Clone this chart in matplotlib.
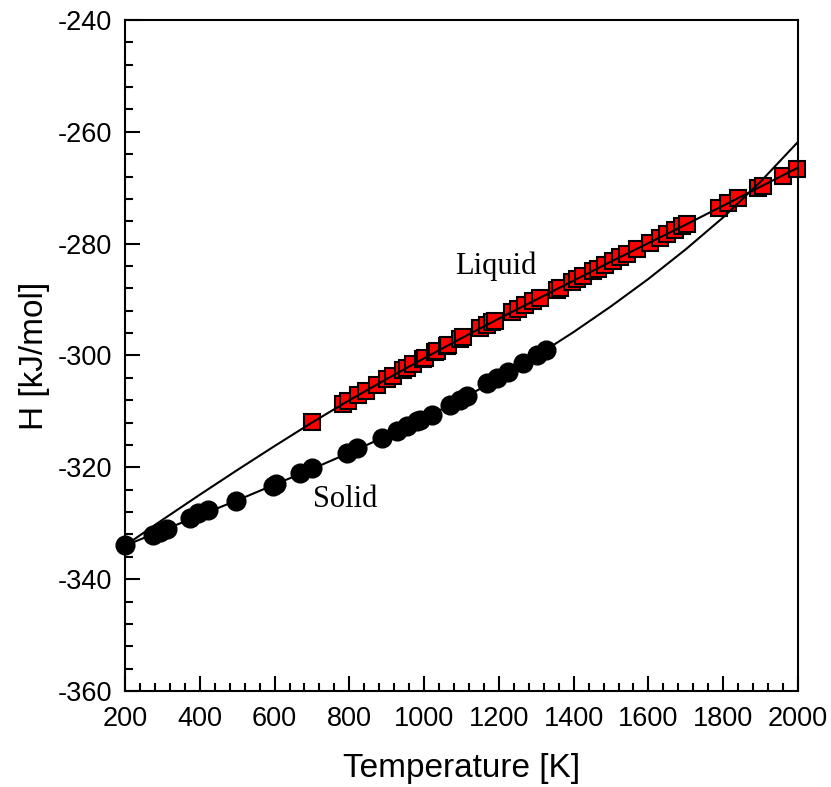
import numpy as np
import matplotlib
matplotlib.use("Agg")
import matplotlib.pyplot as plt
from matplotlib.ticker import MultipleLocator

plt.rcParams["axes.unicode_minus"] = False

# solid phase points (T [K], H [kJ/mol])
solid_T = [200, 275, 294, 312, 374, 395, 422, 497, 596, 605, 668, 700, 794, 820,
           887, 927, 954, 981, 989, 1021, 1069, 1096, 1115, 1168, 1195, 1224, 1264,
           1302, 1325]
solid_H = [-333.9, -332.1, -331.5, -331.0, -329.1, -328.2, -327.6, -326.0, -323.3,
           -323.0, -321.0, -320.1, -317.4, -316.5, -314.8, -313.5, -312.6, -311.8,
           -311.5, -310.6, -308.8, -307.9, -307.3, -305.0, -304.0, -302.9, -301.3,
           -299.9, -299.0]

# liquid phase points
liquid_T = [700, 783, 796, 823, 845, 874, 900, 917, 944, 954, 970, 997, 1002, 1029,
            1034, 1061, 1064, 1096, 1105, 1149, 1168, 1182, 1190, 1235, 1250, 1270,
            1291, 1310, 1355, 1363, 1396, 1409, 1425, 1452, 1465, 1484, 1505, 1524,
            1543, 1569, 1604, 1631, 1650, 1671, 1690, 1703, 1790, 1813, 1840, 1893,
            1906, 1960, 1997]
liquid_H = [-311.9, -308.6, -308.1, -307.1, -306.3, -305.2, -304.2, -303.6, -302.6,
            -302.2, -301.6, -300.6, -300.4, -299.4, -299.2, -298.3, -298.2, -297.0,
            -296.7, -295.1, -294.5, -294.0, -293.8, -292.2, -291.7, -291.0, -290.3,
            -289.7, -288.2, -287.9, -286.8, -286.3, -285.8, -284.9, -284.5, -283.8,
            -283.1, -282.4, -281.8, -281.0, -279.8, -278.9, -278.3, -277.6, -276.9,
            -276.5, -273.6, -272.8, -271.9, -270.1, -269.7, -267.9, -266.6]

# fitted curves
fit_T = [200, 300, 400, 500, 600, 700, 800, 900, 1000, 1100, 1200, 1300, 1400,
         1500, 1600, 1700, 1800, 1900, 2000]
fit_solid = [-334.0, -331.3, -328.6, -325.9, -323.1, -320.3, -317.4, -314.4, -311.2,
             -307.8, -304.1, -300.1, -295.8, -291.2, -286.3, -281.0, -275.3, -268.9,
             -261.8]
fit_liquid = [-334.0, -329.4, -324.9, -320.5, -316.2, -312.0, -308.0, -304.2, -300.5,
              -296.9, -293.4, -290.0, -286.6, -283.2, -279.9, -276.6, -273.2, -269.8,
              -266.4]

fig = plt.figure(figsize=(8.31, 7.87), dpi=100)
ax = fig.add_axes([0.1504, 0.122, 0.8099, 0.8526])

ax.plot(solid_T, solid_H, "o", color="black", markersize=13.5, zorder=2,
        clip_on=False)
ax.plot(liquid_T, liquid_H, "s", markerfacecolor="red", markeredgecolor="black",
        markeredgewidth=1.5, markersize=11.5, zorder=2, clip_on=False)
ax.plot(fit_T, fit_solid, color="black", linewidth=1.5, zorder=3)
ax.plot(fit_T, fit_liquid, color="black", linewidth=1.5, zorder=3)

ax.text(1083, -284, "Liquid", family="Liberation Serif", fontsize=22, va="center")
ax.text(703, -325.8, "Solid", family="Liberation Serif", fontsize=22, va="center")

ax.set_xlim(200, 2000)
ax.set_ylim(-360, -240)
ax.xaxis.set_major_locator(MultipleLocator(200))
ax.xaxis.set_minor_locator(MultipleLocator(40))
ax.yaxis.set_major_locator(MultipleLocator(20))
ax.yaxis.set_minor_locator(MultipleLocator(4))
ax.tick_params(which="both", direction="in", width=1.5, top=False, right=False,
               labelsize=19.5)
ax.tick_params(which="major", length=10.6)
ax.tick_params(axis="x", which="major", pad=11)
ax.tick_params(axis="y", which="major", pad=9)
ax.tick_params(which="minor", length=6)
for lab in ax.get_xticklabels() + ax.get_yticklabels():
    lab.set_family("Liberation Sans")
for sp in ax.spines.values():
    sp.set_linewidth(1.5)

ax.set_xlabel("Temperature [K]", family="Liberation Sans", fontsize=24, labelpad=15)
ax.set_ylabel("H [kJ/mol]", family="Liberation Sans", fontsize=24, labelpad=6)

fig.savefig("out.png", dpi=100)
